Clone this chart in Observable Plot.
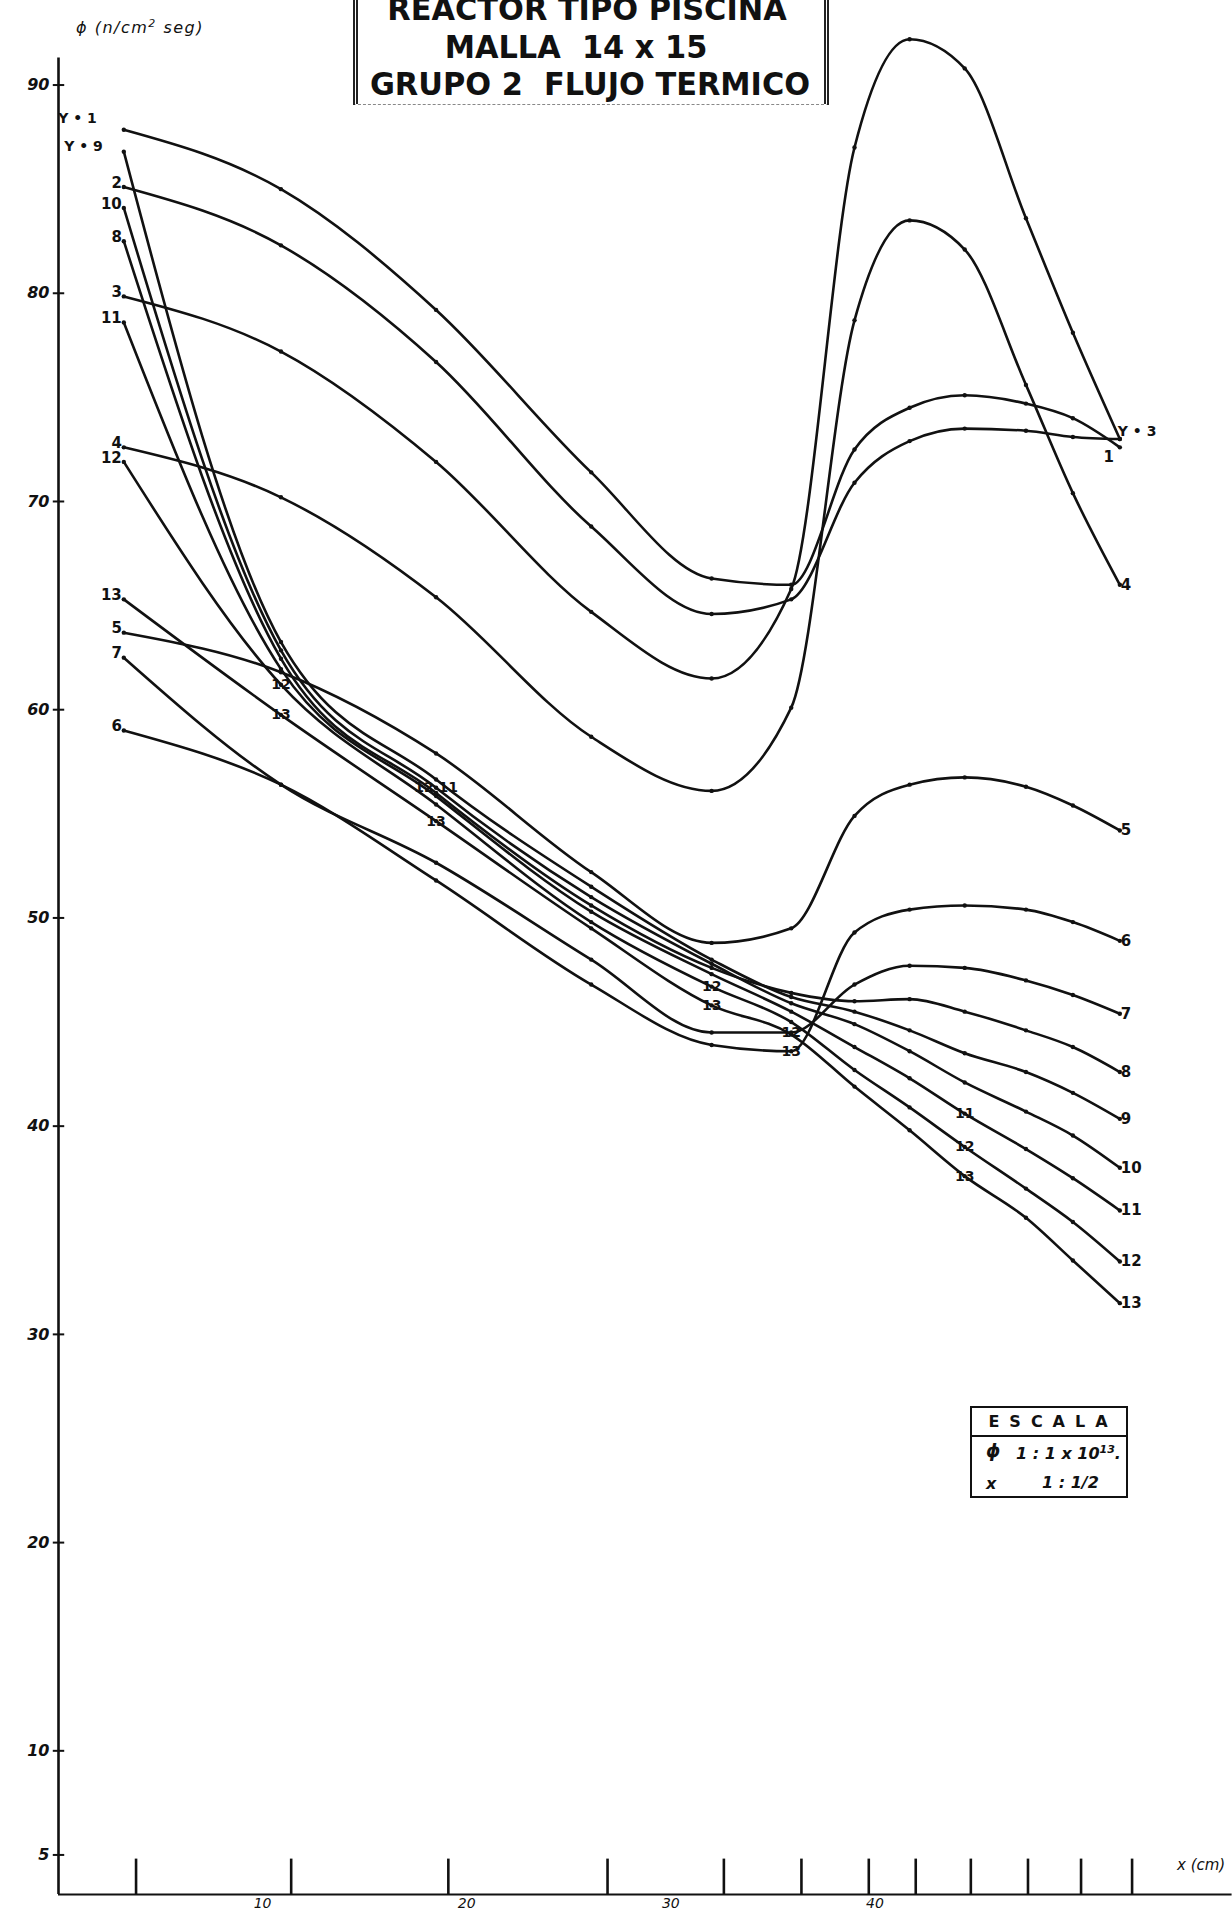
<!DOCTYPE html>
<html><head><meta charset="utf-8">
<script src="https://cdn.jsdelivr.net/npm/d3@7"></script>
<script src="https://cdn.jsdelivr.net/npm/@observablehq/plot@0.6"></script>
<style>
html,body{margin:0;padding:0;background:#fff;}
#wrap{position:relative;width:1232px;height:1913px;overflow:hidden;font-family:"DejaVu Sans",sans-serif;color:#111;}
#chart{position:absolute;left:0;top:0;}
.t{position:absolute;white-space:nowrap;line-height:1;}
.title{font-size:32px;font-weight:bold;transform:translateX(-50%) scaleX(0.95);}
#tbox{position:absolute;left:353px;top:-4px;width:466px;height:108px;border-left:5px double #222;border-right:5px double #222;border-bottom:1px dashed #888;}
#esc{position:absolute;left:970px;top:1406px;width:158px;height:92px;border:2px solid #111;box-sizing:border-box;font-weight:bold;}
#esc .hd{position:absolute;left:0;top:0;width:154px;height:27px;border-bottom:2px solid #111;text-align:center;font-size:16px;line-height:27px;letter-spacing:10px;text-indent:8px;}
#esc .c{position:absolute;font-size:16px;font-style:italic;line-height:1;white-space:nowrap;}
</style></head><body>
<div id="wrap">
<div id="chart"></div>
<div id="tbox"></div>
<div class="t title" style="left:587px;top:-7px;">REACTOR TIPO PISCINA</div>
<div class="t title" style="left:576px;top:31px;">MALLA&nbsp; 14 x 15</div>
<div class="t title" style="left:590px;top:68px;">GRUPO 2&nbsp; FLUJO TERMICO</div>
<div class="t" style="left:76px;top:18px;font-size:16px;font-style:italic;letter-spacing:1.5px;">ϕ (n/cm<sup style="font-size:11px">2</sup> seg)</div>
<div class="t" style="left:1177px;top:1858px;font-size:15px;font-style:italic;">x (cm)</div>
<div id="esc">
  <div class="hd">ESCALA</div>
  <div class="c" style="left:14px;top:34px;font-size:18px;">ϕ</div>
  <div class="c" style="left:44px;top:36px;">1 : 1 x 10<sup style="font-size:11px">13</sup>.</div>
  <div class="c" style="left:14px;top:68px;">x</div>
  <div class="c" style="left:70px;top:67px;">1 : 1/2</div>
</div>
</div>
<script>
// x positions (cm) of the plotted mesh points
const xs = [3.2, 10.9, 18.5, 26.1, 32.0, 35.9, 39.0, 41.7, 44.4, 47.4, 49.7, 52.0];
// tall mesh ticks along the x axis
const meshX = [3.8, 11.4, 19.1, 26.9, 32.6, 36.4, 39.7, 42.0, 44.7, 47.5, 50.1, 52.6];
const xTicks = [10, 20, 30, 40];
const yTicks = [90, 80, 70, 60, 50, 40, 30, 20, 10, 5];

// thermal flux, group 2, for each row Y
const phiY1  = [87.85, 85.0, 79.2, 71.4, 66.3, 66.0, 72.5, 74.5, 75.1, 74.7, 74.0, 72.6];
const phiY2  = [85.1, 82.3, 76.7, 68.8, 64.6, 65.3, 70.9, 72.9, 73.5, 73.4, 73.1, 73.0];
const phiY3  = [79.85, 77.2, 71.9, 64.7, 61.5, 65.8, 87.0, 92.2, 90.8, 83.6, 78.1, 73.0];
const phiY4  = [72.6, 70.2, 65.4, 58.7, 56.1, 60.1, 78.7, 83.5, 82.1, 75.6, 70.4, 66.0];
const phiY5  = [63.7, 61.8, 57.9, 52.2, 48.8, 49.5, 54.9, 56.4, 56.75, 56.3, 55.4, 54.2];
const phiY6  = [59.0, 56.4, 51.8, 46.8, 43.9, 43.6, 49.3, 50.4, 50.6, 50.4, 49.8, 48.9];
const phiY7  = [62.5, 56.4, 52.65, 48.0, 44.5, 44.5, 46.8, 47.7, 47.6, 47.0, 46.3, 45.4];
const phiY8  = [82.5, 62.45, 56.0, 50.6, 47.6, 46.4, 46.0, 46.1, 45.5, 44.6, 43.8, 42.6];
const phiY9  = [86.8, 63.25, 56.65, 51.5, 48.0, 46.2, 45.5, 44.6, 43.5, 42.6, 41.6, 40.35];
const phiY10 = [84.1, 62.85, 56.25, 51.0, 47.8, 45.9, 44.9, 43.6, 42.1, 40.7, 39.55, 38.0];
const phiY11 = [78.6, 61.95, 55.85, 50.3, 47.3, 45.5, 43.8, 42.3, 40.6, 38.9, 37.5, 35.95];
const phiY12 = [71.9, 61.2, 55.45, 49.8, 46.7, 45.0, 42.7, 40.9, 39.0, 37.0, 35.4, 33.5];
const phiY13 = [65.3, 59.75, 54.65, 49.5, 45.8, 44.4, 41.9, 39.8, 37.6, 35.6, 33.55, 31.5];

const rows = [1,2,3,4,5,6,7,8,9,10,11,12,13];
const leftLabels  = ["Y • 1","2","3","4","5","6","7","8","Y • 9","10","11","12","13"];
const rightLabels = ["1","","Y • 3","4","5","6","7","8","9","10","11","12","13"];
// intermediate labels: [row, point index, text]
const markers = [[12,1,"12"],[13,1,"13"],[10,2,"12 11"],[13,2,"13"],[12,4,"12"],[13,4,"13"],
                 [7,5,"12"],[6,5,"13"],[11,8,"11"],[12,8,"12"],[13,8,"13"]];

const series = [phiY1,phiY2,phiY3,phiY4,phiY5,phiY6,phiY7,phiY8,phiY9,phiY10,phiY11,phiY12,phiY13];
const table = [];
rows.forEach((r, i) => series[i].forEach((v, j) => table.push({row: r, x: xs[j], v})));
const starts = rows.map((r, i) => ({row: r, x: xs[0], v: series[i][0], t: leftLabels[i]}));
const ends = rows.map((r, i) => ({row: r, x: xs[xs.length-1], v: series[i][xs.length-1], t: rightLabels[i]}));
const marks = markers.map(([r, j, t]) => ({x: xs[j], v: series[r-1][j], t}));

const F = "DejaVu Sans, sans-serif";
const ink = "#111";

const chart = Plot.plot({
  width: 1232, height: 1913,
  marginLeft: 58, marginRight: 0, marginTop: 0, marginBottom: 19,
  x: {domain: [0, 57.52], axis: null},
  y: {domain: [3.1, 94.06], axis: null},
  style: {background: "transparent", fontFamily: F},
  marks: [
    Plot.ruleX([0], {y1: 3.1, y2: 91.3, stroke: ink, strokeWidth: 2.6}),
    Plot.ruleY([3.1], {x1: 0, x2: 57.5, stroke: ink, strokeWidth: 2.2}),
    Plot.link(yTicks, {x1: -0.28, x2: 0.28, y1: d => d, y2: d => d, stroke: ink, strokeWidth: 2}),
    Plot.text(yTicks, {x: 0, y: d => d, text: d => String(d), textAnchor: "end", dx: -9,
      fontSize: 16, fontWeight: "bold", fontStyle: "italic", fill: ink}),
    Plot.ruleX(meshX, {x: d => d, y1: 3.1, y2: 4.8, stroke: ink, strokeWidth: 2.6}),
    Plot.text(xTicks, {x: d => d, y: 3.1, dy: 9, text: d => String(d), fontSize: 14,
      fontStyle: "italic", fill: ink}),
    Plot.line(table, {x: "x", y: "v", z: "row", curve: "monotone-x", stroke: ink,
      strokeWidth: 2.6, strokeLinejoin: "round"}),
    Plot.dot(table, {x: "x", y: "v", r: 2.2, fill: ink}),
    // left labels
    Plot.text(starts.filter(d => !d.t.startsWith("Y")), {x: "x", y: "v", text: "t",
      textAnchor: "end", dx: -2, dy: -4, fontSize: 15, fontWeight: "bold", fill: ink}),
    Plot.text(starts.filter(d => d.t === "Y • 1"), {x: "x", y: "v", text: "t",
      textAnchor: "end", dx: -27, dy: -11, fontSize: 14, fontWeight: "bold", fill: ink}),
    Plot.text(starts.filter(d => d.t === "Y • 9"), {x: "x", y: "v", text: "t",
      textAnchor: "end", dx: -21, dy: -5, fontSize: 14, fontWeight: "bold", fill: ink}),
    // right labels
    Plot.text(ends.filter(d => d.t && !d.t.startsWith("Y") && d.t !== "1"), {x: "x", y: "v", text: "t",
      textAnchor: "start", dx: 1, dy: 0, fontSize: 15, fontWeight: "bold", fill: ink}),
    Plot.text(ends.filter(d => d.t === "Y • 3"), {x: "x", y: "v", text: "t",
      textAnchor: "start", dx: -2, dy: -8, fontSize: 14, fontWeight: "bold", fill: ink}),
    Plot.text(ends.filter(d => d.t === "1"), {x: "x", y: "v", text: "t",
      textAnchor: "middle", dx: -11, dy: 10, fontSize: 15, fontWeight: "bold", fill: ink}),
    // intermediate labels
    Plot.text(marks, {x: "x", y: "v", text: "t", fontSize: 14, fontWeight: "bold", fill: ink})
  ]
});
document.getElementById("chart").appendChild(chart);
</script>
</body></html>
